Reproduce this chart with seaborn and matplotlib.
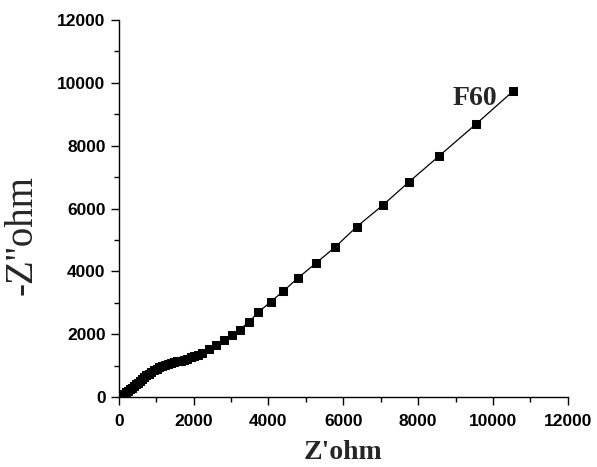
import seaborn as sns
import matplotlib.pyplot as plt
import pandas as pd
from matplotlib.ticker import MultipleLocator

z_real = [40, 90, 140, 190, 240, 290, 340, 400, 450, 500, 560, 620, 680, 740,
          800, 870, 940, 1010, 1080, 1160, 1240, 1320, 1400, 1480, 1560, 1650,
          1740, 1830, 1920, 2010, 2110, 2220, 2400, 2600, 2800, 3020, 3230,
          3470, 3730, 4060, 4400, 4780, 5280, 5780, 6360, 7060, 7750, 8560,
          9550, 10540]
z_imag = [20, 60, 100, 150, 200, 250, 300, 360, 410, 460, 520, 580, 630, 690,
          740, 800, 850, 900, 940, 980, 1010, 1040, 1070, 1100, 1130, 1160,
          1190, 1220, 1260, 1300, 1340, 1390, 1520, 1660, 1800, 1960, 2140,
          2380, 2700, 3030, 3370, 3780, 4270, 4770, 5420, 6110, 6840, 7670,
          8690, 9740]
etiqueta = "F60"

df = pd.DataFrame({"Zr": z_real, "Zi": z_imag})

sns.set_style("ticks")
plt.rcParams["font.family"] = ["Liberation Sans", "DejaVu Sans"]

fig = plt.figure(figsize=(5.97, 4.67), dpi=100)
ax = fig.add_axes([0.199, 0.150, 0.752, 0.807])

sns.lineplot(x="Zr", y="Zi", data=df, ax=ax, color="black", linewidth=0.9,
             marker="s", markersize=5.5, markeredgecolor="black", sort=False)

ax.set_xlim(0, 12000)
ax.set_ylim(0, 12000)
ax.xaxis.set_major_locator(MultipleLocator(2000))
ax.yaxis.set_major_locator(MultipleLocator(2000))
ax.xaxis.set_minor_locator(MultipleLocator(1000))
ax.yaxis.set_minor_locator(MultipleLocator(1000))
ax.tick_params(which="major", direction="out", length=6, width=1, color="black",
               labelsize=12.5, labelcolor="black")
ax.tick_params(axis="x", which="major", pad=6)
ax.tick_params(which="minor", direction="out", length=3.5, width=1, color="black")
for lab in ax.get_xticklabels() + ax.get_yticklabels():
    lab.set_fontweight("bold")

sns.despine(ax=ax)
for s in ["left", "bottom"]:
    ax.spines[s].set_color("black")
    ax.spines[s].set_linewidth(1)

ax.set_xlabel("Z'ohm", fontsize=20, fontweight="bold",
              family=["Liberation Serif", "DejaVu Serif"], labelpad=8)
ax.set_ylabel("-Z''ohm", fontsize=28,
              family=["Liberation Serif", "DejaVu Serif"])
ax.yaxis.set_label_coords(-0.175, 0.43)

ax.text(8930, 9290, etiqueta, fontsize=20, fontweight="bold",
        family=["Liberation Serif", "DejaVu Serif"])

fig.savefig("out.png", dpi=100)
